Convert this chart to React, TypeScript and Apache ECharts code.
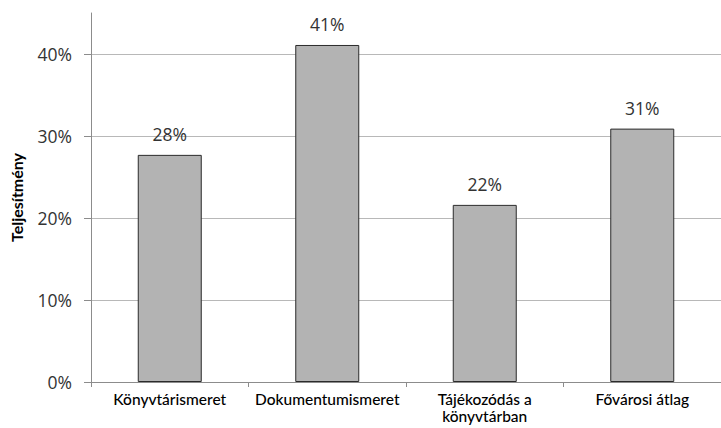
import React, { useEffect, useRef } from "react";
import * as echarts from "echarts";

const categories = ["Könyvtárismeret", "Dokumentumismeret", "Tájékozódás a\nkönyvtárban", "Fővárosi átlag"];
const values = [27.7, 41.1, 21.6, 30.9];
const valueLabels = ["28%", "41%", "22%", "31%"];
const yTicks = [0, 10, 20, 30, 40];
const yMax = 45;
const yTitle = "Teljesítmény";

export default function App() {
  const ref = useRef<HTMLDivElement>(null);
  useEffect(() => {
    if (!ref.current) return;
    const chart = echarts.init(ref.current, null, { renderer: "svg" });
    chart.setOption({
      animation: false,
      backgroundColor: "#ffffff",
      grid: { left: 85, right: -8, top: 13, bottom: 46, containLabel: false },
      xAxis: {
        type: "category",
        data: categories,
        axisLine: { show: true, lineStyle: { color: "#8c8c8c", width: 1 } },
        axisTick: { show: true, length: 5, lineStyle: { color: "#8c8c8c" } },
        axisLabel: {
          color: "#000000",
          fontFamily: "Lato",
          fontWeight: 500,
          fontSize: 15.5,
          margin: 8,
          lineHeight: 17,
          interval: 0,
        },
        splitLine: { show: false },
      },
      yAxis: {
        type: "value",
        min: 0,
        max: yMax,
        interval: 10,
        name: yTitle,
        nameLocation: "middle",
        nameGap: 67,
        nameRotate: 90,
        nameTextStyle: { fontFamily: "Lato", fontWeight: "bold", fontSize: 16, color: "#000000" },
        axisLine: { show: true, lineStyle: { color: "#8c8c8c", width: 1 } },
        axisTick: { show: true, length: 7, customValues: yTicks, lineStyle: { color: "#8c8c8c" } },
        axisLabel: {
          customValues: yTicks,
          formatter: (v: number) => `${v}%`,
          color: "#333333",
          fontFamily: "Open Sans",
          fontSize: 17.5,
          margin: 19,
        },
        splitLine: { show: true, lineStyle: { color: ["#b8b8b8", "#b8b8b8", "#b8b8b8", "#b8b8b8", "#b8b8b8", "rgba(0,0,0,0)"], width: 1 } },
      },
      series: [
        {
          type: "bar",
          data: values,
          barWidth: 64,
          itemStyle: { color: "#b3b3b3", borderColor: "#2b2b2b", borderWidth: 1 },
          label: {
            show: true,
            position: "top",
            distance: 12,
            formatter: (p: any) => valueLabels[p.dataIndex],
            color: "#333333",
            fontFamily: "Open Sans",
            fontSize: 17.5,
          },
        },
      ],
    });
    return () => chart.dispose();
  }, []);
  return <div ref={ref} style={{ width: 721, height: 428, position: "fixed", left: 0, top: 0 }} />;
}
